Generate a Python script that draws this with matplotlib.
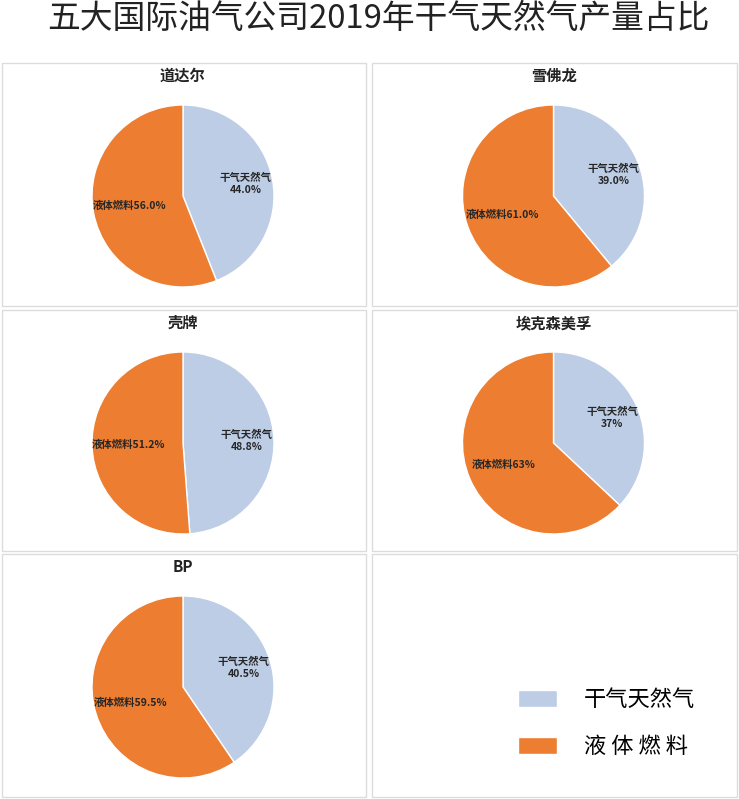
import matplotlib
matplotlib.use("Agg")
import matplotlib.pyplot as plt
from matplotlib.patches import Rectangle
import numpy as np

plt.rcParams["font.family"] = ["Noto Sans CJK SC", "DejaVu Sans"]

title = "五大国际油气公司2019年干气天然气产量占比"
companies = ["道达尔", "雪佛龙", "壳牌", "埃克森美孚", "BP"]
categories = ["干气天然气", "液体燃料"]
gas = [44.0, 39.0, 48.8, 37, 40.5]
liquid = [56.0, 61.0, 51.2, 63, 59.5]
decimals = [1, 1, 1, 0, 1]
legend_labels = ["干气天然气", "液 体 燃 料"]

colors = ["#BDCDE6", "#ED7D31"]
W, H = 739, 799

fig = plt.figure(figsize=(W / 100, H / 100), dpi=100)
fig.patch.set_facecolor("white")

def fx(x):
    return x / W

def fy(y):
    return 1 - y / H

fig.text(fx(378), fy(19), title, ha="center", va="center",
         fontsize=23.6, fontweight="light", color="#222222")

# panel boxes (pixel coords, top-left origin)
cols = [(2, 366), (372, 737)]
rows = [(63, 306), (310, 551), (554, 797)]
for r in rows:
    for c in cols:
        fig.patches.append(Rectangle((fx(c[0]), fy(r[1])), fx(c[1] - c[0]),
                                     (r[1] - r[0]) / H, transform=fig.transFigure,
                                     facecolor="white", edgecolor="#DCDCDC",
                                     linewidth=1, zorder=-1))

radius = 91
wedges0 = None
for i, name in enumerate(companies):
    c = cols[i % 2]
    r = rows[i // 2]
    cx = (c[0] + c[1]) / 2 - 1
    cy = r[0] + 133
    fig.text(fx(cx), fy(r[0] + 13), name, ha="center", va="center",
             fontsize=11, fontweight="bold", color="#222222")
    size = 2 * radius * 1.1
    ax = fig.add_axes([fx(cx - size / 2), fy(cy + size / 2), size / W, size / H])
    ax.set_zorder(2)
    wedges, _ = ax.pie([gas[i], liquid[i]], colors=colors, startangle=90,
                       counterclock=False, radius=1,
                       wedgeprops=dict(edgecolor="white", linewidth=1))
    ax.set_xlim(-1.1, 1.1)
    ax.set_ylim(-1.1, 1.1)
    ax.set_aspect("equal")
    ax.axis("off")
    fmt = "{:.%df}%%" % decimals[i]
    texts = [categories[0] + "\n" + fmt.format(gas[i]),
             categories[1] + fmt.format(liquid[i])]
    dists = [0.7, 0.6]
    for w, t, d in zip(wedges, texts, dists):
        ang = np.deg2rad((w.theta1 + w.theta2) / 2)
        ax.text(d * np.cos(ang), d * np.sin(ang), t, ha="center", va="center",
                fontsize=7.5, fontweight="bold", color="#262626", linespacing=1.25)
    if wedges0 is None:
        wedges0 = wedges

fig.legend(wedges0, legend_labels, loc="upper left",
           bbox_to_anchor=(fx(518), fy(688)), frameon=False,
           prop=dict(size=16, weight="light"),
           handlelength=1.75, handleheight=0.8, handletextpad=1.2,
           labelspacing=1.1, borderpad=0, borderaxespad=0)

fig.savefig("out.png", dpi=100, facecolor="white")
